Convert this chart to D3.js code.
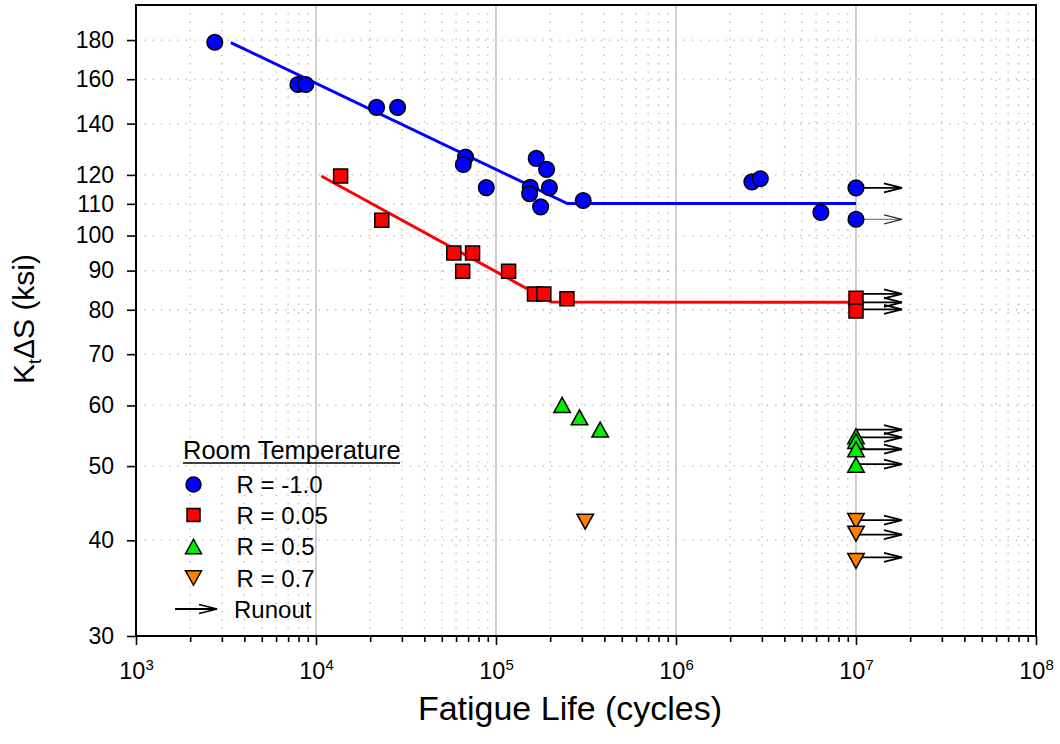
<!DOCTYPE html>
<html><head><meta charset="utf-8">
<script src="https://cdn.jsdelivr.net/npm/d3@7"></script>
<style>body{margin:0;background:#fff} svg{display:block;font-family:Arial,"Liberation Sans",sans-serif}</style>
</head><body><svg id="c" width="1060" height="744"></svg>
<script>
// ---- data ----
const r1Cycles  = [2740, 7930, 8770, 21700, 28400, 67700, 65800, 88300, 167300, 191000, 155000, 198000, 153700, 177000, 305000, 2640000, 2940000, 6380000, 1e7, 1e7];
const r1Stress  = [178.8, 157.5, 157.5, 147, 147, 126.6, 123.8, 115.5, 126.1, 122, 115.6, 115.5, 113.4, 109, 111.1, 117.5, 118.6, 107.2, 115.4, 105];
const r005Cycles = [13700, 23200, 58300, 74100, 65300, 117500, 163600, 184400, 247800, 1e7, 1e7];
const r005Stress = [119.6, 104.7, 94.9, 94.9, 89.8, 89.8, 83.9, 83.9, 82.7, 82.8, 79.7];
const r05Cycles = [233000, 291000, 379000, 1e7, 1e7, 1e7, 1e7];
const r05Stress = [60.1, 57.9, 55.8, 54.7, 53.9, 52.6, 50.2];
const r07Cycles = [313000, 1e7, 1e7, 1e7];
const r07Stress = [42.3, 42.4, 40.8, 37.6];
const runoutCycles = 1e7;
const runoutStress = [115.4, 83.9, 81.8, 80.1, 55.8, 54.5, 52.6, 50.3, 42.5, 40.7, 38.0];
const faintRunoutStress = [105];
const r1FitCycles = [3365, 249000, 1e7];
const r1FitStress = [178.6, 110.1, 110.1];
const r005FitCycles = [10700, 203000, 1e7];
const r005FitStress = [119.6, 81.9, 81.8];
const yTicks = [30, 40, 50, 60, 70, 80, 90, 100, 110, 120, 140, 160, 180];
const xDecades = [3, 4, 5, 6, 7, 8];
const legendLabels = ["R = -1.0", "R = 0.05", "R = 0.5", "R = 0.7", "Runout"];
const legendTitle = "Room Temperature";

// ---- scales ----
const L = 136, R = 1036, T = 5, B = 636;
const FONT = "Arial, 'Liberation Sans', sans-serif";
const x = d3.scaleLog().domain([1e3, 1e8]).range([L, R]);
const y = d3.scaleLog().domain([30, 200]).range([B, T]);
const svg = d3.select("#c");

// ---- grid ----
const minorVals = [];
xDecades.slice(0, -1).forEach(d => { for (let k = 2; k <= 9; k++) minorVals.push(k * Math.pow(10, d)); });
const g = svg.append("g");
g.selectAll(".vm").data(minorVals).join("line")
  .attr("x1", d => x(d)).attr("x2", d => x(d)).attr("y1", T).attr("y2", B)
  .attr("stroke", "#b4b4b4").attr("stroke-width", 1.3).attr("stroke-dasharray", "1.3,7");
g.selectAll(".hm").data(yTicks.filter(v => v > 30)).join("line")
  .attr("x1", L).attr("x2", R).attr("y1", d => y(d)).attr("y2", d => y(d))
  .attr("stroke", "#b4b4b4").attr("stroke-width", 1.3).attr("stroke-dasharray", "1.3,7");
g.selectAll(".vM").data(xDecades.slice(1, -1).map(d => Math.pow(10, d))).join("line")
  .attr("x1", d => x(d)).attr("x2", d => x(d)).attr("y1", T).attr("y2", B)
  .attr("stroke", "#c4c4c4").attr("stroke-width", 1.6);

// ---- axes ----
const ya = svg.append("g").attr("transform", `translate(${L},0)`)
  .call(d3.axisLeft(y).tickValues(yTicks).tickFormat(d3.format("d")).tickSize(9).tickPadding(13));
ya.select(".domain").remove();
ya.selectAll("text").style("font-size", "23px").attr("fill", "#000").style("font-family", FONT);
ya.selectAll("line").attr("stroke-width", 1.6);

const xaMinor = svg.append("g").attr("transform", `translate(0,${B})`)
  .call(d3.axisBottom(x).tickValues(minorVals).tickFormat("").tickSize(6));
xaMinor.select(".domain").remove();
xaMinor.selectAll("line").attr("stroke-width", 1.6);
const xa = svg.append("g").attr("transform", `translate(0,${B})`)
  .call(d3.axisBottom(x).tickValues(xDecades.map(d => Math.pow(10, d))).tickFormat("").tickSize(9));
xa.select(".domain").remove();
xa.selectAll("line").attr("stroke-width", 1.6);
xa.selectAll(".tick text").remove();
xa.selectAll(".tick").each(function (d, i) {
  const t = d3.select(this).append("text").attr("y", 43).attr("text-anchor", "middle")
    .attr("fill", "#000").style("font-size", "23.5px").style("font-family", FONT);
  t.append("tspan").text("10");
  t.append("tspan").style("font-size", "15px").attr("dy", -9).text(String(xDecades[i]));
});

// frame
svg.append("rect").attr("x", L).attr("y", T).attr("width", R - L).attr("height", B - T)
  .attr("fill", "none").attr("stroke", "#000").attr("stroke-width", 2);

// axis titles
svg.append("text").attr("x", 570).attr("y", 720).attr("text-anchor", "middle")
  .style("font-size", "34px").text("Fatigue Life (cycles)");
const yt = svg.append("text").attr("transform", "translate(34,319) rotate(-90)").attr("text-anchor", "middle")
  .style("font-size", "30px");
yt.append("tspan").text("K");
yt.append("tspan").style("font-size", "18px").attr("dy", 7).text("t");
yt.append("tspan").attr("dy", -7).text("\u0394S (ksi)");

// ---- fit lines ----
const line = d3.line().x(d => x(d[0])).y(d => y(d[1]));
svg.append("path").attr("d", line(r1FitCycles.map((c, i) => [c, r1FitStress[i]])))
  .attr("fill", "none").attr("stroke", "#0000ff").attr("stroke-width", 3);
svg.append("path").attr("d", line(r005FitCycles.map((c, i) => [c, r005FitStress[i]])))
  .attr("fill", "none").attr("stroke", "#ff0000").attr("stroke-width", 3);

// ---- runout arrows ----
function arrow(sel, x0, y0, len, color, w, headColor) {
  const tip = x0 + len;
  sel.append("line").attr("x1", x0).attr("x2", tip).attr("y1", y0).attr("y2", y0)
    .attr("stroke", color).attr("stroke-width", w);
  sel.append("path").attr("d", `M${tip - 18},${y0 - 4.5}L${tip},${y0}L${tip - 18},${y0 + 4.5}`)
    .attr("fill", "none").attr("stroke", headColor || color).attr("stroke-width", w);
}
const ag = svg.append("g");
runoutStress.forEach(s => arrow(ag, x(runoutCycles), y(s), 46, "#000", 1.8));
faintRunoutStress.forEach(s => arrow(ag, x(runoutCycles), y(s), 46, "#808080", 1.2, "#333"));

// ---- markers ----
const triUp = (w, h) => `M0,${-h / 2}L${w / 2},${h / 2}L${-w / 2},${h / 2}Z`;
const triDown = (w, h) => `M0,${h / 2}L${w / 2},${-h / 2}L${-w / 2},${-h / 2}Z`;
const sq = s => `M${-s / 2},${-s / 2}h${s}v${s}h${-s}Z`;
const circ = r => `M${r},0A${r},${r} 0 1,1 ${-r},0A${r},${r} 0 1,1 ${r},0Z`;
const series = [
  { c: r1Cycles, s: r1Stress, path: circ(7.8), fill: "#0000ff" },
  { c: r005Cycles, s: r005Stress, path: sq(14), fill: "#ff0000" },
  { c: r05Cycles, s: r05Stress, path: triUp(16.5, 15), fill: "#00ee00" },
  { c: r07Cycles, s: r07Stress, path: triDown(16.5, 15), fill: "#ff8000" }
];
series.forEach(sr => {
  svg.append("g").selectAll("path").data(sr.c.map((c, i) => [c, sr.s[i]])).join("path")
    .attr("transform", d => `translate(${x(d[0])},${y(d[1])})`)
    .attr("d", sr.path).attr("fill", sr.fill).attr("stroke", "#000").attr("stroke-width", 1.5);
});

// ---- legend ----
const lg = svg.append("g").style("font-size", "24px");
lg.append("text").attr("x", 183).attr("y", 459).style("font-size", "25.5px").text(legendTitle);
lg.append("line").attr("x1", 183).attr("x2", 400).attr("y1", 463).attr("y2", 463).attr("stroke", "#000").attr("stroke-width", 1.6);
const ly = [484.5, 515, 546.5, 578, 609];
const lpaths = [circ(7.5), sq(13), triUp(16, 14.5), triDown(16, 14.5)];
const lfills = ["#0000ff", "#ff0000", "#00ee00", "#ff8000"];
lpaths.forEach((p, i) => {
  lg.append("path").attr("transform", `translate(193.5,${ly[i]})`).attr("d", p)
    .attr("fill", lfills[i]).attr("stroke", "#000").attr("stroke-width", 1.5);
});
arrow(lg, 175, ly[4], 42, "#000", 1.8);
legendLabels.forEach((t, i) => {
  lg.append("text").attr("x", i === 4 ? 234 : 236.5).attr("y", ly[i] + 8.5).text(t);
});
</script></body></html>
